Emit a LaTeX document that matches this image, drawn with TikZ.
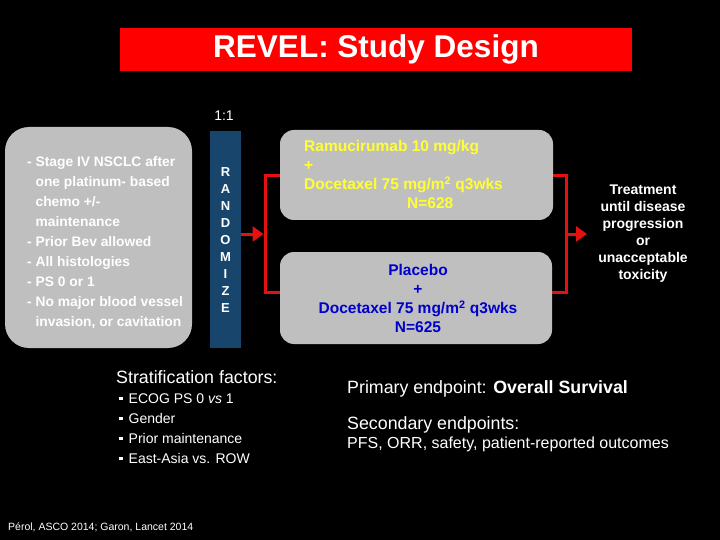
\documentclass[tikz,border=0pt]{standalone}
\usepackage{fontspec}
\setmainfont{Liberation Sans}
\usetikzlibrary{arrows.meta}
\definecolor{boxgray}{RGB}{191,191,191}
\definecolor{barblue}{RGB}{23,69,107}
\definecolor{titlered}{RGB}{255,0,0}
\definecolor{linered}{RGB}{230,16,16}
\definecolor{armyellow}{RGB}{255,255,51}
\definecolor{armblue}{RGB}{0,0,204}
\tikzset{
  graybox/.style={fill=boxgray, draw=none, rounded corners=#1},
  redline/.style={draw=linered, line width=3pt},
  redarrow/.style={redline, -{Triangle[width=15pt,length=11pt]}},
  wtext/.style={text=white, inner sep=0pt},
}
\newcommand{\sqbul}{\raisebox{3pt}{\rule{3.5pt}{3.5pt}}}
\begin{document}
\begin{tikzpicture}[x=1pt,y=-1pt]
\useasboundingbox[fill=black] (0,0) rectangle (720,540);
% title
\node[fill=titlered, minimum width=512pt, minimum height=43pt, inner sep=0pt, text=white,
  font=\bfseries\fontsize{31.5}{33}\selectfont] (title) at (376,49.5) {REVEL: Study Design};
\node[wtext, font=\fontsize{14}{16}\selectfont] (ratio) at (224,116) {1:1};
% left eligibility box
\path[graybox=24pt] (5,127) rectangle (192,348);
\node[wtext, anchor=north west, align=left, font=\bfseries\fontsize{13.8}{20}\selectfont] (elig) at (27,156.5)
 {- Stage IV NSCLC after\\
  \hphantom{- }one platinum- based\\
  \hphantom{- }chemo +/-\\
  \hphantom{- }maintenance\\
  - Prior Bev allowed\\
  - All histologies\\
  - PS 0 or 1\\
  - No major blood vessel\\
  \hphantom{- }invasion, or cavitation};
% randomize bar
\node[fill=barblue, minimum width=31pt, minimum height=217pt, inner sep=0pt] (rand) at (225.5,239.5) {};
\node[wtext, align=center, font=\bfseries\fontsize{13}{17}\selectfont] (randtxt) at (225.5,240)
 {R\\A\\N\\D\\O\\M\\I\\Z\\E};
% arm boxes
\node[graybox=14pt, minimum width=273pt, minimum height=90pt, inner sep=0pt] (arm1) at (416.5,175) {};
\node[graybox=14pt, minimum width=272pt, minimum height=92pt, inner sep=0pt] (arm2) at (416,298) {};
\node[text=armyellow, inner sep=0pt, anchor=north west, align=left, font=\bfseries\fontsize{15.5}{19}\selectfont] (arm1txt) at (304,140)
 {Ramucirumab 10 mg/kg\\
  +\\
  Docetaxel 75 mg/m\textsuperscript{2} q3wks\\
  \hspace*{103pt}N=628};
\node[text=armblue, inner sep=0pt, align=center, font=\bfseries\fontsize{15.5}{19.3}\selectfont] (arm2txt) at (418,298.5)
 {Placebo\\
  +\\
  Docetaxel 75 mg/m\textsuperscript{2} q3wks\\
  N=625};
% connectors
\coordinate (lb) at (265,234);
\coordinate (rb) at (566,234);
\draw[redarrow] (rand.east |- lb) -- ([xshift=-1.5pt]lb);
\draw[redline] (arm1.west |- 0,176) -| (lb) |- (arm2.west |- 0,292);
\draw[redline] (arm1.east |- 0,176) -| (rb) |- (arm2.east |- 0,292);
\node[wtext, align=center, font=\bfseries\fontsize{14}{17}\selectfont] (outcome) at (643,234)
 {Treatment\\until disease\\progression\\or\\unacceptable\\toxicity};
\draw[redarrow] (rb) -- (outcome.west -| 587,0);
% stratification
\node[wtext, anchor=west, font=\fontsize{17.8}{20}\selectfont] (strat) at (116,377) {Stratification factors:};
\node[wtext, anchor=north west, align=left, font=\fontsize{14}{20}\selectfont] (stratlist) at (119,393.5)
 {\sqbul\hspace{6pt}ECOG PS 0 \textit{vs} 1\\
  \sqbul\hspace{6pt}Gender\\
  \sqbul\hspace{6pt}Prior maintenance\\
  \sqbul\hspace{6pt}East-Asia vs. ROW};
% endpoints
\node[wtext, anchor=west, font=\fontsize{17.8}{20}\selectfont] (prim) at (347,389) {Primary endpoint: \textbf{Overall Survival}};
\node[wtext, anchor=west, font=\fontsize{17.8}{20}\selectfont] (sec) at (347,425) {Secondary endpoints:};
\node[wtext, anchor=west, font=\fontsize{16}{18}\selectfont] (seclist) at (347,444) {PFS, ORR, safety, patient-reported outcomes};
% footer
\node[wtext, anchor=west, font=\fontsize{10.5}{12}\selectfont] (foot) at (8,527) {Pérol,  ASCO 2014; Garon, Lancet 2014};
\end{tikzpicture}
\end{document}
